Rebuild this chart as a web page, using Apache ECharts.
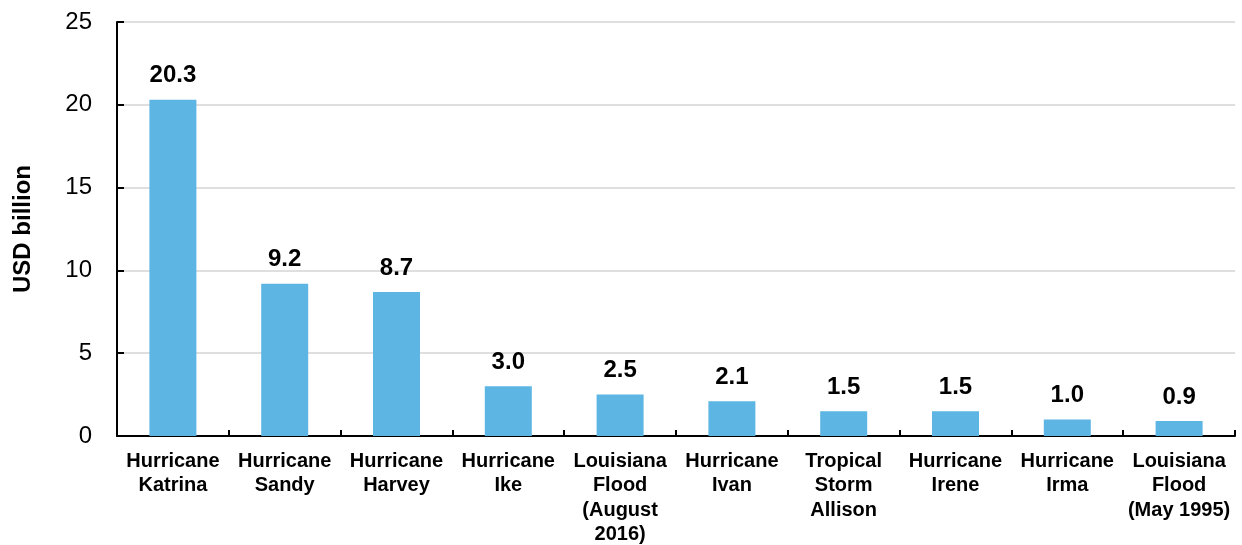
<!DOCTYPE html>
<html>
<head>
<meta charset="utf-8">
<script src="https://cdn.jsdelivr.net/npm/echarts@6/dist/echarts.min.js"></script>
<style>
  html, body { margin: 0; padding: 0; background: #fff; }
  #chart { width: 1242px; height: 545px; }
</style>
</head>
<body>
<div id="chart"></div>
<script>
// Insured flood losses by event (USD billion)
const categories = [
  'Hurricane\nKatrina', 'Hurricane\nSandy', 'Hurricane\nHarvey', 'Hurricane\nIke',
  'Louisiana\nFlood\n(August\n2016)', 'Hurricane\nIvan', 'Tropical\nStorm\nAllison',
  'Hurricane\nIrene', 'Hurricane\nIrma', 'Louisiana\nFlood\n(May 1995)'
];
const losses = [20.3, 9.2, 8.7, 3.0, 2.5, 2.1, 1.5, 1.5, 1.0, 0.9];
const yTicks = { min: 0, max: 25, interval: 5 };

const FONT = '"Liberation Sans", Arial, sans-serif';
const chart = echarts.init(document.getElementById('chart'), null, { renderer: 'canvas' });

chart.setOption({
  animation: false,
  grid: { left: 117, right: 7, top: 22, bottom: 109, containLabel: false, outerBoundsMode: 'none' },
  xAxis: {
    type: 'category',
    data: categories,
    axisLine: { lineStyle: { color: '#000', width: 2 } },
    axisTick: { show: true, inside: true, length: 6, alignWithLabel: false, lineStyle: { color: '#000', width: 2 } },
    axisLabel: {
      interval: 0, color: '#000', fontFamily: FONT, fontWeight: 'bold',
      fontSize: 20, lineHeight: 24.5, margin: 13
    },
    splitLine: { show: false }
  },
  yAxis: {
    type: 'value',
    min: yTicks.min, max: yTicks.max, interval: yTicks.interval,
    name: 'USD billion',
    nameLocation: 'middle',
    nameGap: 82,
    nameRotate: 90,
    nameTextStyle: { color: '#000', fontFamily: FONT, fontWeight: 'bold', fontSize: 24 },
    axisLine: { show: true, lineStyle: { color: '#000', width: 2 } },
    axisTick: { show: true, inside: true, length: 7, lineStyle: { color: '#000', width: 2 } },
    axisLabel: { color: '#000', fontFamily: FONT, fontSize: 24, margin: 25 },
    splitLine: { show: true, lineStyle: { color: '#d4d4d4', width: 1.5 } }
  },
  series: [{
    type: 'bar',
    data: losses,
    barWidth: 47,
    itemStyle: { color: '#5DB5E3' },
    label: {
      show: true, position: 'top', distance: 12,
      color: '#000', fontFamily: FONT, fontWeight: 'bold', fontSize: 24,
      formatter: p => p.value.toFixed(1)
    }
  }]
});
</script>
</body>
</html>
